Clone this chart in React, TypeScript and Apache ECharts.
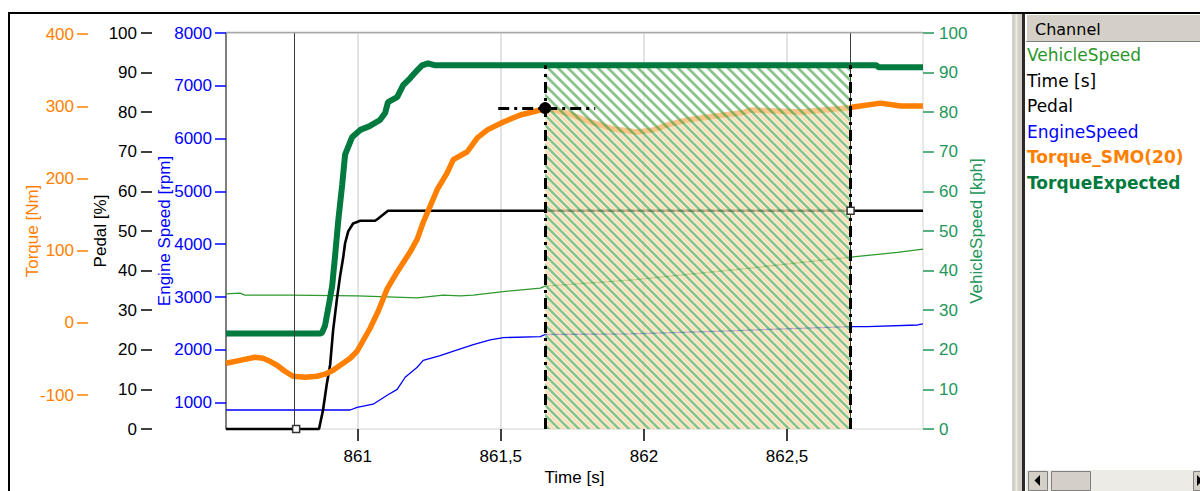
import { useEffect, useRef } from 'react';
import * as echarts from 'echarts';

// ---- time base [s] ----
const timeRange = [860.54, 862.975];
const timeTicks = [861, 861.5, 862, 862.5];
const referenceCursor = 860.785;
const cursorStart = 861.655;
const cursorEnd = 862.722;
const markerSpan = [861.491, 861.83];

// ---- axis scales ----
const torqueRange = [-147, 401.5];
const torqueTicks = [-100, 0, 100, 200, 300, 400];
const pedalRange = [0, 100];
const engineRange = [500, 8000];
const engineTicks = [1000, 2000, 3000, 4000, 5000, 6000, 7000, 8000];
const speedRange = [0, 100];

// ---- channels ----
const vehicleSpeedTime = [860.54, 860.589, 860.606, 860.764, 860.998, 861.208, 861.299, 861.358, 861.404, 861.523, 861.638, 861.655, 861.953, 862.302, 862.722, 862.886, 862.975];
const vehicleSpeedValue = [34.1, 34.3, 33.8, 33.8, 33.6, 33.1, 33.8, 33.6, 33.8, 34.8, 35.6, 36.1, 37.6, 40.1, 43.4, 44.6, 45.4];

const engineSpeedTime = [860.54, 860.974, 860.998, 861.054, 861.103, 861.138, 861.166, 861.208, 861.229, 861.288, 861.348, 861.404, 861.463, 861.509, 861.638, 861.655, 861.953, 862.302, 862.722, 862.781, 862.956, 862.975];
const engineSpeedValue = [860, 860, 910, 970, 1140, 1250, 1480, 1670, 1800, 1890, 2000, 2100, 2190, 2230, 2250, 2290, 2300, 2360, 2440, 2440, 2470, 2490];

const pedalTime = [860.54, 860.865, 860.879, 860.892, 860.904, 860.914, 860.928, 860.939, 860.949, 860.956, 860.967, 860.984, 861.009, 861.061, 861.071, 861.085, 861.106, 862.975];
const pedalValue = [0, 0, 4.8, 11.3, 16.3, 24.8, 33.1, 38.8, 43.1, 46.9, 49.9, 51.9, 52.6, 52.6, 53.1, 53.9, 55.1, 55.1];

const torqueTime = [860.54, 860.589, 860.641, 860.669, 860.694, 860.718, 860.746, 860.774, 860.816, 860.858, 860.886, 860.914, 860.939, 860.974, 860.998, 861.043, 861.071, 861.103, 861.138, 861.183, 861.208, 861.229, 861.253, 861.278, 861.313, 861.334, 861.383, 861.418, 861.453, 861.509, 861.568, 861.638, 861.655, 861.732, 861.813, 861.893, 861.977, 862.033, 862.082, 862.152, 862.222, 862.337, 862.372, 862.547, 862.711, 862.732, 862.827, 862.897, 862.975];
const torqueValue = [-56, -51.9, -47.7, -49, -53.2, -58.7, -67, -73.9, -75.2, -73.9, -71.1, -65.6, -58.7, -49, -39.3, -7.8, 15.5, 47.2, 70.6, 98.1, 116, 139.4, 161.4, 184.7, 208.1, 226, 237, 256.3, 267.3, 278.3, 287.9, 294.8, 297.5, 290.6, 278.3, 268.6, 264.4, 267.3, 274.2, 281, 285.1, 290.6, 294.8, 292, 297.5, 298.9, 304.4, 300.3, 300.3];

const torqueExpTime = [860.54, 860.869, 860.876, 860.886, 860.897, 860.911, 860.921, 860.932, 860.946, 860.956, 860.981, 861.009, 861.043, 861.078, 861.096, 861.106, 861.138, 861.159, 861.183, 861.208, 861.225, 861.246, 861.271, 862.813, 862.82, 862.975];
const torqueExpValue = [-14.7, -14.7, -13.3, -3.7, 19.7, 51.3, 92.6, 140.7, 191.6, 232.9, 257.6, 267.3, 272.8, 281, 290.6, 305.8, 312.7, 329.2, 338.8, 349.8, 356.7, 359.5, 356.7, 356.7, 354, 354];

// ---- channel list ----
const channelNames = ['VehicleSpeed', 'Time [s]', 'Pedal', 'EngineSpeed', 'Torque_SMO(20)', 'TorqueExpected'];
const channelColors = ['#2a962a', '#000000', '#000000', '#0000ff', '#ff8000', '#007a3e'];
const channelBold = [false, false, false, false, true, true];

// ---- styling ----
const ORANGE = '#ff8000';
const BLUE = '#0000ff';
const DARK_GREEN = '#007a3e';
const SPEED_GREEN = '#2e9a2e';
const SPEED_AXIS_GREEN = '#22965a';
const AXIS_FONT = '"Liberation Sans", Arial, sans-serif';
const PANEL_FONT = '"DejaVu Sans", Verdana, sans-serif';

const GRID = { left: 226, top: 33, right: 923, bottom: 432 };
const WIDTH = 1200;
const HEIGHT = 491;

const pairs = (t: number[], v: number[]) => t.map((x, i) => [x, v[i]]);

function valueAt(t: number[], v: number[], x: number): number {
  for (let i = 1; i < t.length; i++) {
    if (x <= t[i]) {
      const f = (x - t[i - 1]) / (t[i] - t[i - 1]);
      return v[i - 1] + f * (v[i] - v[i - 1]);
    }
  }
  return v[v.length - 1];
}

// samples of a channel between two cursors, closed at the cursor times
function between(t: number[], v: number[], a: number, b: number) {
  const out: number[][] = [[a, valueAt(t, v, a)]];
  t.forEach((x, i) => {
    if (x > a && x < b) out.push([x, v[i]]);
  });
  out.push([b, valueAt(t, v, b)]);
  return out;
}

// diagonal hatch tile ("\" stripes, 10px period)
function hatch(stroke: string, strokeOpacity: number, bg: string, bgOpacity: number, phase: number) {
  const lines = [phase - 10, phase, phase + 10]
    .map((c) => `M${c - 3},-3 L${c + 13},13`)
    .join(' ');
  const svg =
    `<svg xmlns="http://www.w3.org/2000/svg" width="10" height="10">` +
    `<rect width="10" height="10" fill="${bg}" fill-opacity="${bgOpacity}"/>` +
    `<path d="${lines}" stroke="${stroke}" stroke-opacity="${strokeOpacity}" stroke-width="2.8" fill="none"/>` +
    `</svg>`;
  return {
    image: 'data:image/svg+xml;charset=utf-8,' + encodeURIComponent(svg),
    repeat: 'repeat',
    imageWidth: 10,
    imageHeight: 10,
  };
}

function buildOption() {
  const torqueAtA = valueAt(torqueTime, torqueValue, cursorStart);
  const expAtA = valueAt(torqueExpTime, torqueExpValue, cursorStart);
  const expAtB = valueAt(torqueExpTime, torqueExpValue, cursorEnd);
  const dashDot = { color: '#000', width: 3, type: [11, 5, 3, 5] };

  const tickStyle = (color: string) => ({ color, width: 1.5 });
  const labelStyle = (color: string, margin: number) => ({
    color,
    fontSize: 17,
    fontFamily: AXIS_FONT,
    margin,
    formatter: (v: number) => String(v),
  });
  const nameStyle = (color: string) => ({ color, fontSize: 17, fontFamily: AXIS_FONT });

  const graphic: any[] = [
    // plot frame (top edge darker)
    { type: 'line', shape: { x1: GRID.left, y1: GRID.top - 0.5, x2: GRID.right, y2: GRID.top - 0.5 }, style: { stroke: '#a8a8a8', lineWidth: 1.5 }, z: 10 },
    // window frame
    { type: 'line', shape: { x1: 8, y1: 13, x2: WIDTH, y2: 13 }, style: { stroke: '#000', lineWidth: 2 } },
    { type: 'line', shape: { x1: 9, y1: 12, x2: 9, y2: HEIGHT }, style: { stroke: '#000', lineWidth: 2 } },
    // splitter between chart and channel list
    { type: 'rect', shape: { x: 1012, y: 14, width: 10, height: HEIGHT - 14 }, style: { fill: '#d4d0c8' } },
    { type: 'line', shape: { x1: 1016.5, y1: 14, x2: 1016.5, y2: HEIGHT }, style: { stroke: '#ecebe6', lineWidth: 2 } },
    { type: 'line', shape: { x1: 1023.5, y1: 14, x2: 1023.5, y2: HEIGHT }, style: { stroke: '#2a2a2a', lineWidth: 3 } },
    // channel header
    { type: 'rect', shape: { x: 1026, y: 15, width: 174, height: 27 }, style: { fill: '#d4d0c8' } },
    { type: 'line', shape: { x1: 1026, y1: 41.5, x2: WIDTH, y2: 41.5 }, style: { stroke: '#808080', lineWidth: 1 } },
    { type: 'line', shape: { x1: 1026.5, y1: 15, x2: 1026.5, y2: 41 }, style: { stroke: '#ffffff', lineWidth: 1 } },
    {
      type: 'text',
      x: 1035,
      y: 29,
      style: { text: 'Channel', fill: '#000', fontSize: 16, fontFamily: PANEL_FONT, verticalAlign: 'middle' },
    },
    // scroll bar
    { type: 'rect', shape: { x: 1026, y: 470, width: 174, height: 21 }, style: { fill: '#ecebe6' } },
    { type: 'rect', shape: { x: 1028.5, y: 471.5, width: 19, height: 19 }, style: { fill: '#d4d0c8', stroke: '#808080', lineWidth: 1 } },
    { type: 'polygon', shape: { points: [[1040, 475], [1040, 486], [1034.5, 480.5]] }, style: { fill: '#000' } },
    { type: 'rect', shape: { x: 1051.5, y: 471.5, width: 39, height: 19 }, style: { fill: '#d4d0c8', stroke: '#808080', lineWidth: 1 } },
    { type: 'rect', shape: { x: 1193.5, y: 471.5, width: 19, height: 19 }, style: { fill: '#d4d0c8', stroke: '#808080', lineWidth: 1 } },
    { type: 'polygon', shape: { points: [[1197, 475], [1197, 486], [1202.5, 480.5]] }, style: { fill: '#000' } },
  ];

  channelNames.forEach((name, i) => {
    graphic.push({
      type: 'text',
      x: 1027,
      y: 55 + i * 25.6,
      style: {
        text: name,
        fill: channelColors[i],
        fontSize: 17,
        fontWeight: channelBold[i] ? 'bold' : 'normal',
        fontFamily: PANEL_FONT,
        verticalAlign: 'middle',
      },
    });
  });

  return {
    animation: false,
    backgroundColor: '#ffffff',
    grid: {
      left: GRID.left,
      top: GRID.top,
      right: WIDTH - GRID.right,
      bottom: HEIGHT - GRID.bottom,
      show: true,
      borderColor: '#d4d4d4',
      borderWidth: 1,
    },
    xAxis: {
      type: 'value',
      min: timeRange[0],
      max: timeRange[1],
      name: 'Time [s]',
      nameLocation: 'middle',
      nameGap: 40,
      nameMoveOverlap: false,
      nameTextStyle: nameStyle('#000'),
      axisLine: { show: false, onZero: false },
      axisTick: { show: true, length: 12, customValues: timeTicks, lineStyle: tickStyle('#000') },
      axisLabel: {
        ...labelStyle('#000', 19),
        customValues: timeTicks,
        formatter: (v: number) => String(v).replace('.', ','),
      },
      splitLine: { show: true, lineStyle: { color: '#dadada', width: 1.5 } },
    },
    yAxis: [
      {
        type: 'value',
        position: 'left',
        offset: 138,
        min: torqueRange[0],
        max: torqueRange[1],
        name: 'Torque [Nm]',
        nameLocation: 'middle',
        nameGap: 47,
        nameMoveOverlap: false,
        nameTextStyle: nameStyle(ORANGE),
        axisLine: { show: false, onZero: false },
        axisTick: { show: true, length: 11, customValues: torqueTicks, lineStyle: tickStyle(ORANGE) },
        axisLabel: { ...labelStyle(ORANGE, 14), customValues: torqueTicks },
        splitLine: { show: false },
      },
      {
        type: 'value',
        position: 'left',
        offset: 74,
        min: pedalRange[0],
        max: pedalRange[1],
        interval: 10,
        name: 'Pedal [%]',
        nameLocation: 'middle',
        nameGap: 43,
        nameMoveOverlap: false,
        nameTextStyle: nameStyle('#000'),
        axisLine: { show: false, onZero: false },
        axisTick: { show: true, length: 11, lineStyle: tickStyle('#000') },
        axisLabel: labelStyle('#000', 15),
        splitLine: { show: false },
      },
      {
        type: 'value',
        position: 'left',
        offset: 0,
        min: engineRange[0],
        max: engineRange[1],
        name: 'Engine Speed [rpm]',
        nameLocation: 'middle',
        nameGap: 53,
        nameMoveOverlap: false,
        nameTextStyle: nameStyle(BLUE),
        axisLine: { show: true, onZero: false, lineStyle: { color: '#5a5a5a', width: 1.5 } },
        axisTick: { show: true, length: 11, customValues: engineTicks, lineStyle: tickStyle(BLUE) },
        axisLabel: { ...labelStyle(BLUE, 14), customValues: engineTicks },
        splitLine: { show: false },
      },
      {
        type: 'value',
        position: 'right',
        offset: 0,
        min: speedRange[0],
        max: speedRange[1],
        interval: 10,
        name: 'VehicleSpeed [kph]',
        nameLocation: 'middle',
        nameGap: 45,
        nameMoveOverlap: false,
        nameTextStyle: nameStyle(SPEED_AXIS_GREEN),
        axisLine: { show: false, onZero: false },
        axisTick: { show: true, length: 11, lineStyle: tickStyle(SPEED_AXIS_GREEN) },
        axisLabel: labelStyle(SPEED_AXIS_GREEN, 16),
        splitLine: { show: false },
      },
    ],
    series: [
      {
        name: 'VehicleSpeed',
        type: 'line',
        yAxisIndex: 3,
        data: pairs(vehicleSpeedTime, vehicleSpeedValue),
        showSymbol: false,
        silent: true,
        lineStyle: { color: SPEED_GREEN, width: 1.3 },
        z: 2,
      },
      {
        name: 'EngineSpeed',
        type: 'line',
        yAxisIndex: 2,
        data: pairs(engineSpeedTime, engineSpeedValue),
        showSymbol: false,
        silent: true,
        lineStyle: { color: BLUE, width: 1.3 },
        z: 2,
      },
      {
        name: 'Pedal',
        type: 'line',
        yAxisIndex: 1,
        data: pairs(pedalTime, pedalValue),
        showSymbol: false,
        silent: true,
        clip: false,
        lineStyle: { color: '#000', width: 2.6 },
        z: 2,
        markPoint: {
          silent: true,
          symbol: 'rect',
          symbolSize: 7,
          itemStyle: { color: '#ffffff', borderColor: '#333', borderWidth: 1.5 },
          label: { show: false },
          data: [
            { coord: [referenceCursor, valueAt(pedalTime, pedalValue, referenceCursor)] },
            { coord: [cursorEnd, valueAt(pedalTime, pedalValue, cursorEnd)] },
          ],
        },
      },
      {
        name: 'Torque_SMO(20)',
        type: 'line',
        yAxisIndex: 0,
        data: pairs(torqueTime, torqueValue),
        showSymbol: false,
        silent: true,
        lineStyle: { color: '#ff7f00', width: 5.5 },
        z: 2,
      },
      {
        name: 'range',
        type: 'line',
        yAxisIndex: 0,
        data: between(torqueExpTime, torqueExpValue, cursorStart, cursorEnd),
        showSymbol: false,
        silent: true,
        lineStyle: { opacity: 0 },
        areaStyle: { origin: 'start', opacity: 1, color: hatch('#3c9c3c', 0.6, '#ffffff', 0.55, 0) },
        z: 3,
      },
      {
        name: 'range torque',
        type: 'line',
        yAxisIndex: 0,
        data: between(torqueTime, torqueValue, cursorStart, cursorEnd),
        showSymbol: false,
        silent: true,
        lineStyle: { opacity: 0 },
        areaStyle: { origin: 'start', opacity: 1, color: hatch('#ffc880', 0.6, '#ffffff', 0, 5) },
        z: 3,
      },
      {
        name: 'TorqueExpected',
        type: 'line',
        yAxisIndex: 0,
        data: pairs(torqueExpTime, torqueExpValue),
        showSymbol: false,
        silent: true,
        lineStyle: { color: DARK_GREEN, width: 6 },
        z: 4,
        markLine: {
          silent: true,
          symbol: ['none', 'none'],
          label: { show: false },
          data: [
            { xAxis: referenceCursor, lineStyle: { color: '#3c3c3c', width: 1, type: 'solid' } },
            { xAxis: cursorEnd, lineStyle: { color: '#3c3c3c', width: 1, type: 'solid' } },
            [
              { coord: [cursorStart, torqueRange[0]], lineStyle: dashDot },
              { coord: [cursorStart, expAtA] },
            ],
            [
              { coord: [cursorEnd, torqueRange[0]], lineStyle: dashDot },
              { coord: [cursorEnd, expAtB] },
            ],
            [
              { coord: [markerSpan[0], torqueAtA], lineStyle: dashDot },
              { coord: [markerSpan[1], torqueAtA] },
            ],
          ],
        },
        markPoint: {
          silent: true,
          symbol: 'circle',
          symbolSize: 12,
          itemStyle: { color: '#000' },
          label: { show: false },
          data: [{ coord: [cursorStart, torqueAtA] }],
        },
      },
    ],
    graphic,
  };
}

export default function App() {
  const ref = useRef<HTMLDivElement>(null);
  useEffect(() => {
    document.body.style.margin = '0';
    const chart = echarts.init(ref.current!, null, { renderer: 'svg' });
    chart.setOption(buildOption() as any);
    return () => chart.dispose();
  }, []);
  return <div ref={ref} style={{ width: WIDTH, height: HEIGHT, background: '#fff' }} />;
}
